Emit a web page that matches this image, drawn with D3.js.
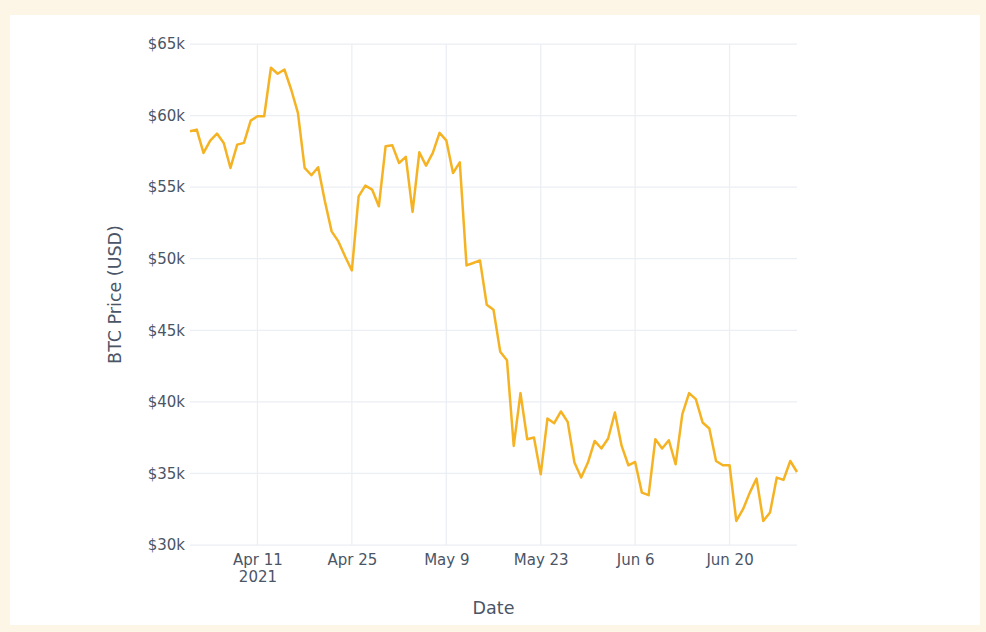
<!DOCTYPE html>
<html>
<head>
<meta charset="utf-8">
<script src="https://cdn.jsdelivr.net/npm/d3@7"></script>
<style>
  html, body { margin: 0; padding: 0; background: #fdf5e6; }
  svg { display: block; }
</style>
</head>
<body>
<svg id="chart" width="986" height="632"></svg>
<script>
// ---- data ----
const startDate = "2021-04-01";
const aprPrices = [58900, 59020, 57390, 58250, 58740, 58090, 56340, 57970, 58090, 59650,
  59950, 59950, 63340, 62920, 63220, 61820, 60190, 56340, 55830, 56390,
  54010, 51910, 51210, 50160, 49180, 54360, 55110, 54830, 53660, 57850];
const mayPrices = [57920, 56690, 57110, 53270, 57430, 56500, 57390, 58790, 58270, 55990,
  56730, 49530, 49700, 49880, 46780, 46430, 43500, 42900, 36920, 40610,
  37390, 37510, 34940, 38840, 38510, 39330, 38600, 35760, 34710, 35760, 37270];
const junPrices = [36740, 37440, 39260, 36920, 35570, 35800, 33660, 33480, 37390, 36740,
  37320, 35640, 39140, 40610, 40190, 38560, 38140, 35870, 35570, 35570,
  31680, 32500, 33660, 34640, 31680, 32270, 34710, 34550, 35870, 35100];
const yTicks = [30000, 35000, 40000, 45000, 50000, 55000, 60000, 65000];
const xTicks = ["2021-04-11", "2021-04-25", "2021-05-09", "2021-05-23", "2021-06-06", "2021-06-20"];
const yTitle = "BTC Price (USD)";
const xTitle = "Date";

// ---- build series ----
const parse = d3.utcParse("%Y-%m-%d");
const prices = aprPrices.concat(mayPrices, junPrices);
const t0 = parse(startDate);
const data = prices.map((v, i) => ({ date: d3.utcDay.offset(t0, i), value: v }));

const svg = d3.select("#chart");
// white panel
svg.append("rect").attr("x", 10).attr("y", 15).attr("width", 970).attr("height", 610).attr("fill", "#ffffff");

const L = 190, R = 797, T = 44, B = 545;
const x = d3.scaleUtc().domain(d3.extent(data, d => d.date)).range([L, R]);
const y = d3.scaleLinear().domain([30000, 65000]).range([B, T]);

const fontFam = "'DejaVu Sans', Verdana, sans-serif";
const textCol = "#4a5566";
const gridCol = "#ebeef3";

// grid
const g = svg.append("g");
g.selectAll("line.hg").data(yTicks).join("line")
  .attr("x1", L).attr("x2", R)
  .attr("y1", d => y(d)).attr("y2", d => y(d))
  .attr("stroke", gridCol).attr("stroke-width", 1.25);
g.selectAll("line.vg").data(xTicks.map(parse)).join("line")
  .attr("x1", d => x(d)).attr("x2", d => x(d))
  .attr("y1", T).attr("y2", B)
  .attr("stroke", gridCol).attr("stroke-width", 1.25);

// y axis
const yAxis = d3.axisLeft(y).tickValues(yTicks).tickSize(0).tickPadding(4)
  .tickFormat(d => "$" + (d / 1000) + "k");
const ya = svg.append("g").attr("transform", `translate(${L - 1},0)`).call(yAxis);
ya.select(".domain").remove();
ya.selectAll("text").attr("font-family", fontFam).attr("font-size", 15).attr("fill", textCol);

// x axis
const fmtMD = d3.utcFormat("%b %-d");
const xAxis = d3.axisBottom(x).tickValues(xTicks.map(parse)).tickSize(0).tickPadding(9)
  .tickFormat(fmtMD);
const xa = svg.append("g").attr("transform", `translate(0,${B})`).call(xAxis);
xa.select(".domain").remove();
xa.selectAll("text").attr("font-family", fontFam).attr("font-size", 15).attr("fill", textCol);
xa.selectAll(".tick").filter((d, i) => i === 0).append("text")
  .attr("y", 37).attr("text-anchor", "middle")
  .attr("font-family", fontFam).attr("font-size", 15).attr("fill", textCol)
  .text(d3.utcFormat("%Y"));

// line
const line = d3.line().x(d => x(d.date)).y(d => y(d.value));
svg.append("path").datum(data)
  .attr("d", line)
  .attr("fill", "none")
  .attr("stroke", "#f5b324")
  .attr("stroke-width", 2.5)
  .attr("stroke-linejoin", "round");

// titles
svg.append("text")
  .attr("x", (L + R) / 2).attr("y", 614)
  .attr("text-anchor", "middle")
  .attr("font-family", fontFam).attr("font-size", 17.5).attr("fill", textCol)
  .text(xTitle);
svg.append("text")
  .attr("transform", `translate(121,${(T + B) / 2}) rotate(-90)`)
  .attr("text-anchor", "middle")
  .attr("font-family", fontFam).attr("font-size", 17.5).attr("fill", textCol)
  .text(yTitle);
</script>
</body>
</html>
